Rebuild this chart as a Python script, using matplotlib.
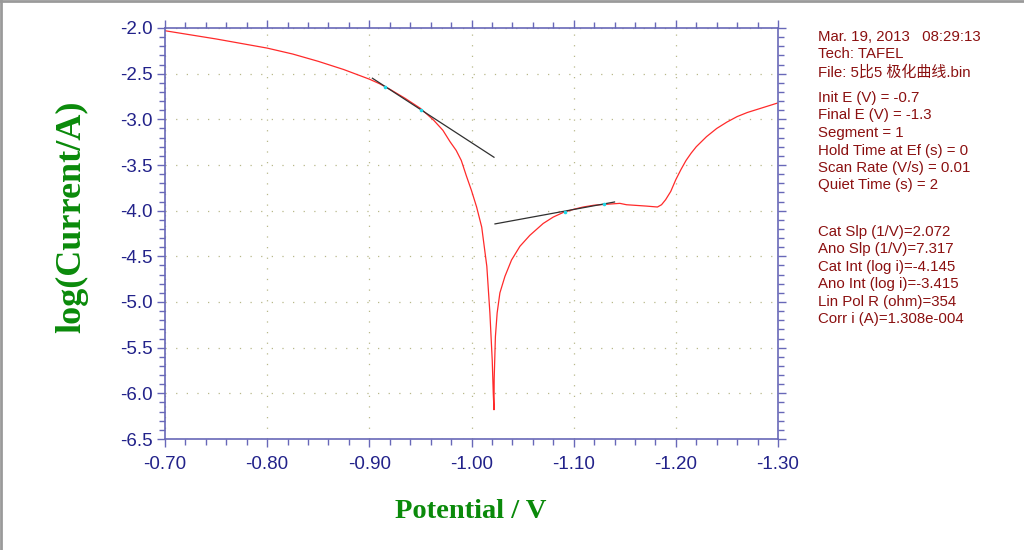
import matplotlib
matplotlib.use("Agg")
import matplotlib.pyplot as plt
from matplotlib.lines import Line2D
from matplotlib.ticker import MultipleLocator, FormatStrFormatter

# Tafel scan (potential in V, log current in A)
potential = [-0.700, -0.725, -0.750, -0.775, -0.800, -0.825, -0.850, -0.875, -0.900,
             -0.910, -0.920, -0.935, -0.950, -0.963, -0.972, -0.979, -0.985, -0.990,
             -0.995, -1.000, -1.005, -1.010, -1.015, -1.018, -1.0203, -1.0213, -1.022,
             -1.0222, -1.0234, -1.0251, -1.0278, -1.0327, -1.0392, -1.0474, -1.0571,
             -1.0702, -1.080, -1.0897, -1.100, -1.1093, -1.120, -1.1322, -1.1452,
             -1.1517, -1.1713, -1.182, -1.186, -1.190, -1.195, -1.200, -1.205, -1.210,
             -1.215, -1.220, -1.230, -1.240, -1.250, -1.260, -1.270, -1.280, -1.290,
             -1.300]
log_current = [-2.03, -2.075, -2.12, -2.17, -2.22, -2.285, -2.365, -2.455, -2.56,
               -2.61, -2.67, -2.77, -2.88, -3.01, -3.12, -3.245, -3.34, -3.45,
               -3.62, -3.78, -3.96, -4.18, -4.61, -5.12, -5.64, -6.00, -6.18,
               -5.84, -5.38, -5.12, -4.90, -4.72, -4.54, -4.39, -4.27,
               -4.14, -4.07, -4.02, -3.985, -3.96, -3.94, -3.93, -3.92,
               -3.935, -3.95, -3.96, -3.935, -3.88, -3.79, -3.66, -3.55, -3.45,
               -3.37, -3.30, -3.19, -3.10, -3.03, -2.97, -2.925, -2.89, -2.855,
               -2.82]

# Tafel fit lines (end points) and fit-range marks
ano_fit_E = [-0.903, -1.022]
ano_fit_logi = [-2.55, -3.415]
cat_fit_E = [-1.023, -1.140]
cat_fit_logi = [-4.145, -3.905]
range_E = [-0.915, -0.951, -1.0914, -1.1299]
range_logi = [-2.65, -2.90, -4.01, -3.93]

info_block1 = ["Mar. 19, 2013   08:29:13", "Tech: TAFEL", "File: 5比5 极化曲线.bin"]
info_block2 = ["Init E (V) = -0.7", "Final E (V) = -1.3", "Segment = 1",
               "Hold Time at Ef (s) = 0", "Scan Rate (V/s) = 0.01", "Quiet Time (s) = 2"]
info_block3 = ["Cat Slp (1/V)=2.072", "Ano Slp (1/V)=7.317", "Cat Int (log i)=-4.145",
               "Ano Int (log i)=-3.415", "Lin Pol R (ohm)=354", "Corr i (A)=1.308e-004"]

W, H = 1024, 550
fig = plt.figure(figsize=(10.24, 5.5), dpi=100)
ax = fig.add_axes([165 / W, 1 - 439 / H, (778 - 165) / W, (439 - 28) / H])

axis_col = "#6868b8"
label_col = "#22228a"

ax.plot(potential, log_current, color="#ff2a2a", lw=0.9)
ax.plot(ano_fit_E, ano_fit_logi, color="#303030", lw=0.9)
ax.plot(cat_fit_E, cat_fit_logi, color="#303030", lw=0.9)
ax.plot(range_E, range_logi, ls="none", marker="o", ms=1.6, color="#22d8e8")

ax.set_xlim(-0.70, -1.30)
ax.set_ylim(-6.5, -2.0)
ax.xaxis.set_major_locator(MultipleLocator(0.1))
ax.xaxis.set_minor_locator(MultipleLocator(0.02))
ax.yaxis.set_major_locator(MultipleLocator(0.5))
ax.yaxis.set_minor_locator(MultipleLocator(0.1))
ax.xaxis.set_major_formatter(FormatStrFormatter("%.2f"))
ax.yaxis.set_major_formatter(FormatStrFormatter("%.1f"))

for s in ax.spines.values():
    s.set_color(axis_col)
    s.set_linewidth(1.2)
ax.tick_params(which="both", direction="out", color=axis_col, width=1.0,
               top=True, right=True, labelcolor=label_col)
ax.tick_params(which="major", length=6)
ax.tick_params(which="minor", length=4)
ax.tick_params(axis="x", pad=6)
ax.tick_params(axis="y", pad=3)
for lab in ax.get_xticklabels() + ax.get_yticklabels():
    lab.set_family("Liberation Sans")
    lab.set_fontsize(13.5)

ax.grid(True, which="major", color="#b8b88a", lw=0.9, ls=(0, (1, 7.5)))

fig.text(72 / W, 1 - 217 / H, "log(Current/A)", rotation=90, ha="center", va="center",
         family="Liberation Serif", fontweight="bold", fontsize=26, color="#0a8a0a")
fig.text(471 / W, 1 - 511 / H, "Potential / V", ha="center", va="center",
         family="Liberation Serif", fontweight="bold", fontsize=20.5, color="#0a8a0a")

txt_col = "#8b1010"
txt_font = ["Liberation Sans", "Noto Sans CJK SC"]
for block, y0 in ((info_block1, 37), (info_block2, 98), (info_block3, 232)):
    for i, line in enumerate(block):
        fig.text(818 / W, 1 - (y0 + i * 17.5) / H, line, ha="left", va="center",
                 family=txt_font, fontsize=10.8, color=txt_col)

# window border (top and left edges)
fig.add_artist(Line2D([0, 1], [0.998, 0.998], transform=fig.transFigure, color="#9a9a9a", lw=2))
fig.add_artist(Line2D([0.001, 0.001], [0, 1], transform=fig.transFigure, color="#9a9a9a", lw=2))

fig.savefig("out.png", dpi=100)
plt.close(fig)
